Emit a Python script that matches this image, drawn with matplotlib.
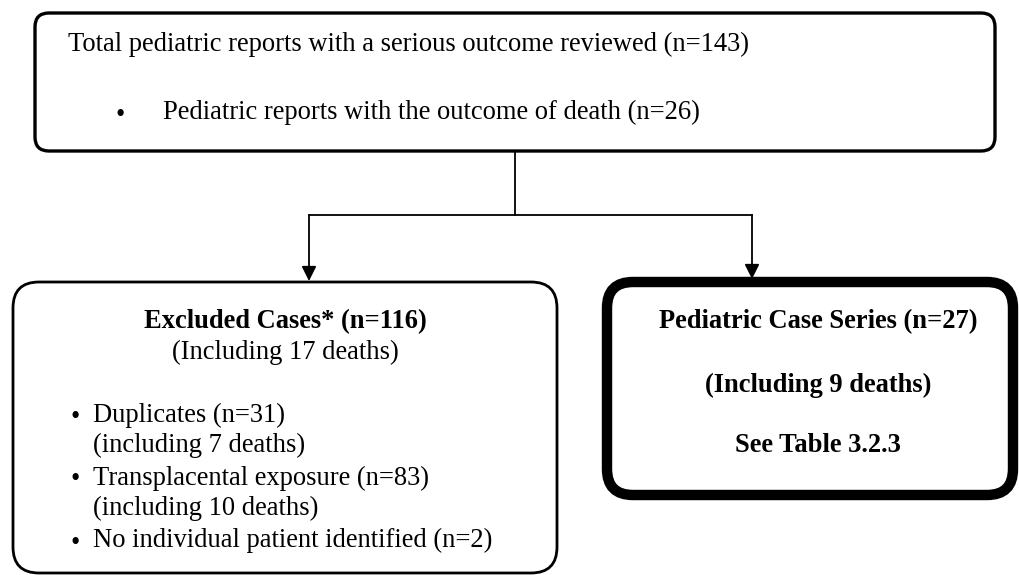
import matplotlib.pyplot as plt
from matplotlib.patches import FancyBboxPatch, FancyArrowPatch

# counts shown in the flow chart
n_total = 143
n_deaths = 26
n_excluded = 116
n_excluded_deaths = 17
n_dup = 31
n_dup_deaths = 7
n_transp = 83
n_transp_deaths = 10
n_noid = 2
n_series = 27
n_series_deaths = 9

top_lines = ["Total pediatric reports with a serious outcome reviewed (n=%d)" % n_total,
             "Pediatric reports with the outcome of death (n=%d)" % n_deaths]
excl_head = ["Excluded Cases* (n=%d)" % n_excluded,
             "(Including %d deaths)" % n_excluded_deaths]
excl_items = ["Duplicates (n=%d)\n(including %d deaths)" % (n_dup, n_dup_deaths),
              "Transplacental exposure (n=%d)\n(including %d deaths)" % (n_transp, n_transp_deaths),
              "No individual patient identified (n=%d)" % n_noid]
series_lines = ["Pediatric Case Series (n=%d)" % n_series,
                "(Including %d deaths)" % n_series_deaths,
                "See Table 3.2.3"]

plt.rcParams['font.family'] = ['Liberation Serif', 'DejaVu Serif']

fig = plt.figure(figsize=(10.2, 5.75), dpi=100)
ax = fig.add_axes([0, 0, 1, 1])
ax.set_xlim(0, 1020)
ax.set_ylim(575, 0)
ax.axis('off')

def rbox(x0, y0, x1, y1, r, lw):
    p = FancyBboxPatch((x0 + r, y0 + r), x1 - x0 - 2 * r, y1 - y0 - 2 * r,
                       boxstyle="round,pad=%f" % r, fc='white', ec='black', lw=lw)
    ax.add_patch(p)

rbox(35, 13, 995, 151, 14, 2.4)
rbox(13, 282, 557, 573, 26, 2.0)
rbox(607, 282, 1013, 495, 26, 7.5)

# connectors
ax.plot([515, 515], [151, 215], color='black', lw=1.3)
ax.plot([309, 752], [215, 215], color='black', lw=1.3)
for xa, ya in [(309, 281), (752, 279)]:
    a = FancyArrowPatch((xa, 215), (xa, ya), arrowstyle='-|>', mutation_scale=22,
                        color='black', lw=1.3, shrinkA=0, shrinkB=0)
    ax.add_patch(a)

fs = 19.1
ax.text(68, 44, top_lines[0], fontsize=fs, va='center', ha='left')
ax.text(120, 116, u"\u2022", fontsize=fs, va='center', ha='center')
ax.text(163, 112, top_lines[1], fontsize=fs, va='center', ha='left')

ax.text(285, 322, excl_head[0], fontsize=fs, fontweight='bold', va='center', ha='center')
ax.text(285, 352, excl_head[1], fontsize=fs, va='center', ha='center')
item_y = [430, 493, 540]
for y, s in zip(item_y, excl_items):
    ax.text(75, y + 3 - (16 if '\n' in s else 0), u"\u2022", fontsize=fs, va='center', ha='center')
    ax.text(93, y, s, fontsize=fs, va='center', ha='left', linespacing=1.25)

for y, s in zip([322, 385, 445], series_lines):
    ax.text(818, y, s, fontsize=fs, fontweight='bold', va='center', ha='center')

fig.savefig('out.png', dpi=100)
